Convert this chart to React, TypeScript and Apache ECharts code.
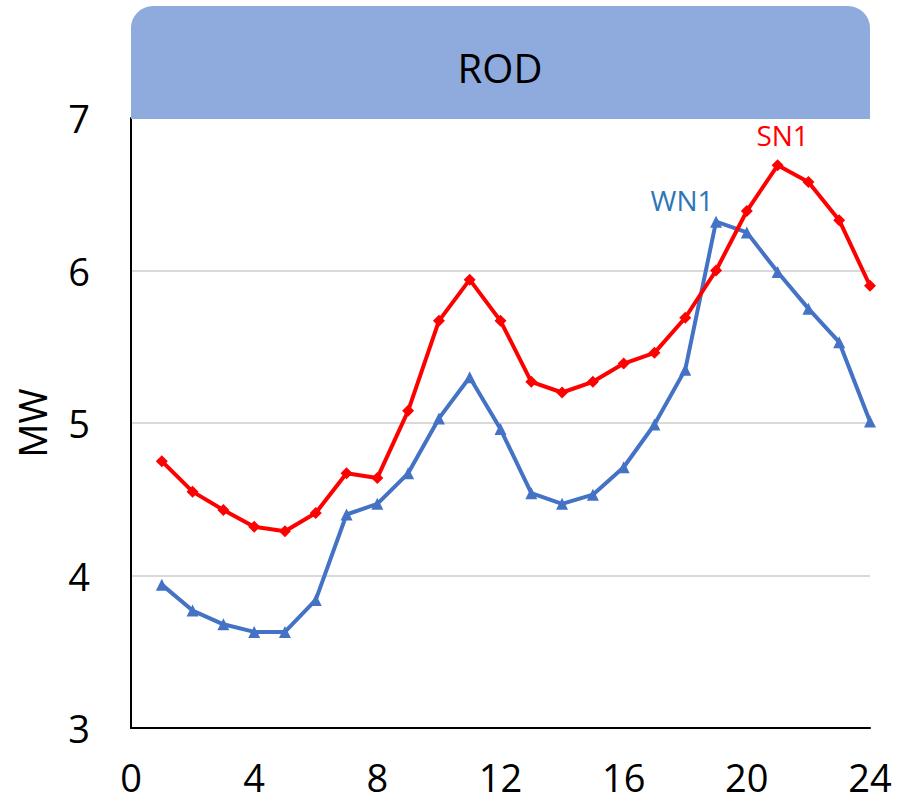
import React, { useEffect, useRef } from "react";
import * as echarts from "echarts";

const hours = [1,2,3,4,5,6,7,8,9,10,11,12,13,14,15,16,17,18,19,20,21,22,23,24];
const sn1 = [4.75,4.55,4.43,4.32,4.29,4.41,4.67,4.64,5.08,5.67,5.94,5.67,5.27,5.20,5.27,5.39,5.46,5.69,6.00,6.39,6.69,6.58,6.33,5.90];
const wn1 = [3.94,3.77,3.68,3.63,3.63,3.84,4.40,4.47,4.67,5.03,5.30,4.96,4.54,4.47,4.53,4.71,4.99,5.35,6.32,6.25,5.99,5.75,5.53,5.01];
const xTicks = [0, 24, 4];
const yTicks = [3, 7, 1];
const titleText = "ROD";
const yName = "MW";
const seriesNames = ["SN1", "WN1"];

const FONT = "'Open Sans', 'Noto Sans', sans-serif";

export default function App() {
  const ref = useRef<HTMLDivElement>(null);
  useEffect(() => {
    if (!ref.current) return;
    const chart = echarts.init(ref.current, null, { renderer: "svg" });
    const mk = (vals: number[], labelIdx: number, name: string, labelColor: string, offset: number[]) =>
      hours.map((h, i) => {
        const item: any = { value: [h, vals[i]] };
        if (i === labelIdx) {
          item.label = {
            show: true,
            formatter: name,
            position: "top",
            offset,
            color: labelColor,
            fontSize: 28,
            fontFamily: FONT,
          };
        }
        return item;
      });
    chart.setOption({
      animation: false,
      backgroundColor: "#ffffff",
      grid: { left: 131, right: 42, top: 118, bottom: 75, containLabel: false },
      graphic: [
        {
          type: "rect",
          shape: { x: 131, y: 6, width: 739, height: 113, r: [22, 22, 0, 0] },
          style: { fill: "#8FAADC" },
          z: 10,
        },
        {
          type: "text",
          x: 500,
          y: 67,
          style: {
            text: titleText,
            fill: "#000000",
            fontSize: 40,
            fontFamily: FONT,
            align: "center",
            verticalAlign: "middle",
          },
          z: 11,
        },
      ],
      xAxis: {
        type: "value",
        min: xTicks[0],
        max: xTicks[1],
        interval: xTicks[2],
        axisLine: { show: true, onZero: false, lineStyle: { color: "#000000", width: 2 } },
        axisTick: { show: false },
        splitLine: { show: false },
        axisLabel: { color: "#000000", fontSize: 38, fontFamily: FONT, margin: 30 },
      },
      yAxis: {
        type: "value",
        min: yTicks[0],
        max: yTicks[1],
        interval: yTicks[2],
        name: yName,
        nameLocation: "middle",
        nameGap: 80,
        nameTextStyle: { color: "#000000", fontSize: 38, fontFamily: FONT },
        axisLine: { show: true, lineStyle: { color: "#000000", width: 2 } },
        axisTick: { show: false },
        splitLine: { show: true, lineStyle: { color: "#D9D9D9", width: 2 } },
        axisLabel: { color: "#000000", fontSize: 38, fontFamily: FONT, margin: 41 },
      },
      series: [
        {
          name: seriesNames[0],
          type: "line",
          data: mk(sn1, 20, seriesNames[0], "#FF0000", [5, -5]),
          lineStyle: { color: "#FF0000", width: 4 },
          itemStyle: { color: "#FF0000" },
          symbol: "diamond",
          symbolSize: 12,
          z: 3,
        },
        {
          name: seriesNames[1],
          type: "line",
          data: mk(wn1, 18, seriesNames[1], "#2E75B6", [-34, 3]),
          lineStyle: { color: "#4472C4", width: 4 },
          itemStyle: { color: "#4472C4" },
          symbol: "triangle",
          symbolSize: 12,
          z: 2,
        },
      ],
    });
    return () => chart.dispose();
  }, []);
  return <div ref={ref} style={{ width: 912, height: 803, position: "absolute", left: 0, top: 0 }} />;
}
